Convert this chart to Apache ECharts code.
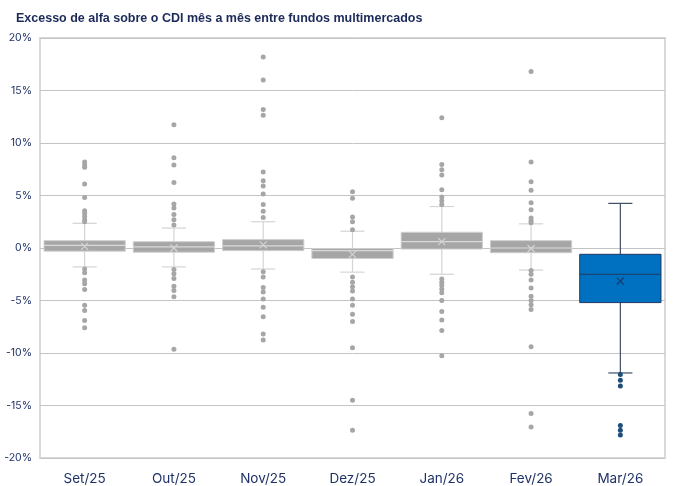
<!DOCTYPE html>
<html><head><meta charset="utf-8">
<script src="https://cdn.jsdelivr.net/npm/echarts@6/dist/echarts.min.js"></script>
<style>html,body{margin:0;padding:0;background:#fff}#c{width:673px;height:486px}</style>
</head><body><div id="c"></div>
<script>
const categories = ['Set/25','Out/25','Nov/25','Dez/25','Jan/26','Fev/26','Mar/26'];
const whiskerLow  = [-1.8, -1.8, -2.0, -2.3, -2.5, -2.1, -11.9];
const q1          = [-0.3, -0.4, -0.25, -1.0, -0.1, -0.45, -5.2];
const median      = [0.25, 0.1, 0.2, -0.25, 0.6, 0.0, -2.5];
const q3          = [0.7, 0.6, 0.8, -0.05, 1.5, 0.7, -0.6];
const whiskerHigh = [2.35, 1.9, 2.5, 1.6, 3.95, 2.3, 4.25];
const mean        = [0.15, 0.0, 0.3, -0.6, 0.6, -0.05, -3.15];
const outSet = [8.2, 7.9, 7.7, 6.1, 4.8, 3.55, 3.3, 3.0, 2.7, 2.5, -2.0, -2.35, -3.05, -3.4, -3.95, -5.45, -5.95, -6.9, -7.6];
const outOut = [11.75, 8.6, 7.9, 6.25, 4.2, 3.8, 3.2, 2.7, 2.2, -2.05, -2.45, -2.9, -3.65, -4.05, -4.65, -9.65];
const outNov = [18.2, 16.0, 13.2, 12.65, 7.25, 6.4, 5.9, 5.15, 4.15, 3.5, 2.9, -2.25, -2.75, -3.75, -4.2, -4.85, -5.65, -6.55, -8.2, -8.75];
const outDez = [5.35, 4.75, 2.95, 2.5, 1.75, -2.75, -3.25, -3.7, -4.1, -4.85, -5.45, -6.3, -7.0, -9.5, -14.5, -17.35];
const outJan = [12.4, 7.95, 7.45, 6.95, 5.55, 4.85, 4.5, 4.15, -2.95, -3.25, -3.55, -3.9, -4.25, -5.0, -6.05, -6.85, -7.85, -10.25];
const outFev = [16.8, 8.2, 6.3, 5.5, 4.3, 3.65, 2.85, 2.6, 2.4, -2.15, -2.5, -3.05, -3.8, -4.6, -5.0, -5.4, -5.85, -9.4, -15.75, -17.05];
const outMar = [-12.05, -12.6, -13.15, -16.9, -17.35, -17.8];
const yTicks = {min: -20, max: 20, interval: 5};
const highlightIndex = 6;

const outliers = [outSet, outOut, outNov, outDez, outJan, outFev, outMar];
const boxData = categories.map((c, i) => [i, whiskerLow[i], q1[i], median[i], q3[i], whiskerHigh[i], mean[i]]);
const grayPts = [], bluePts = [];
outliers.forEach((arr, i) => arr.forEach(v => (i === highlightIndex ? bluePts : grayPts).push([i, v])));

const chart = echarts.init(document.getElementById('c'), null, {renderer: 'canvas'});
chart.setOption({
  animation: false,
  title: {
    text: 'Excesso de alfa sobre o CDI mês a mês entre fundos multimercados',
    left: 11, top: 7,
    textStyle: {fontFamily: 'Liberation Sans Narrow, Liberation Sans, sans-serif', fontSize: 12.5, fontWeight: 'bold', color: '#1c2a5a'}
  },
  grid: {left: 40, right: 8, top: 38, bottom: 28, show: true, borderColor: '#d9d9d9', borderWidth: 2},
  xAxis: {
    type: 'category', data: categories,
    axisLine: {show: false}, axisTick: {show: false},
    axisLabel: {fontFamily: 'Inter, sans-serif', fontSize: 13.5, color: '#1f3268', margin: 14}
  },
  yAxis: {
    type: 'value', min: yTicks.min, max: yTicks.max, interval: yTicks.interval,
    axisLine: {show: false}, axisTick: {show: false},
    axisLabel: {formatter: '{value}%', fontFamily: 'Inter, sans-serif', fontSize: 10.5, color: '#1f3268', margin: 8},
    splitLine: {lineStyle: {color: '#c4c4c4', width: 1}}
  },
  series: [
    {
      type: 'custom',
      data: boxData,
      encode: {x: 0, y: [1, 2, 3, 4, 5, 6]},
      z: 2,
      renderItem: function (params, api) {
        const idx = api.value(0);
        const hl = idx === highlightIndex;
        const x = api.coord([idx, 0])[0];
        const band = api.size([1, 0])[0];
        const bw = band * 0.91, cap = band * 0.27;
        const y = k => api.coord([idx, api.value(k)])[1];
        const yLo = y(1), yQ1 = y(2), yMed = y(3), yQ3 = y(4), yHi = y(5), yMean = y(6);
        const wc = hl ? '#3f4f66' : '#d4d4d4';
        const fill = hl ? '#0070c0' : '#a6a6a6';
        const border = hl ? '#1f3864' : '#cfcfcf';
        const medC = hl ? '#1f3864' : '#d9d9d9';
        const mC = hl ? '#1f3864' : '#d4d4d4';
        const ls = (x1, y1, x2, y2, c, w) => ({type: 'line', shape: {x1, y1, x2, y2}, style: {stroke: c, lineWidth: w || 1}});
        const m = 3.5;
        return {type: 'group', children: [
          ls(x, yHi, x, yQ3, wc, 1.2),
          ls(x, yQ1, x, yLo, wc, 1.2),
          ls(x - cap / 2, yHi, x + cap / 2, yHi, wc, 1.2),
          ls(x - cap / 2, yLo, x + cap / 2, yLo, wc, 1.2),
          {type: 'rect', shape: {x: x - bw / 2, y: yQ3, width: bw, height: yQ1 - yQ3}, style: {fill: fill, stroke: border, lineWidth: 1}},
          ls(x - bw / 2, yMed, x + bw / 2, yMed, medC, 1.2),
          ls(x - m, yMean - m, x + m, yMean + m, mC, 1.2),
          ls(x - m, yMean + m, x + m, yMean - m, mC, 1.2)
        ]};
      }
    },
    {type: 'scatter', data: grayPts, symbolSize: 5, itemStyle: {color: '#a6a6a6', opacity: 1}, z: 3},
    {type: 'scatter', data: bluePts, symbolSize: 5, itemStyle: {color: '#1f4e79', opacity: 1}, z: 3}
  ]
});
</script></body></html>
